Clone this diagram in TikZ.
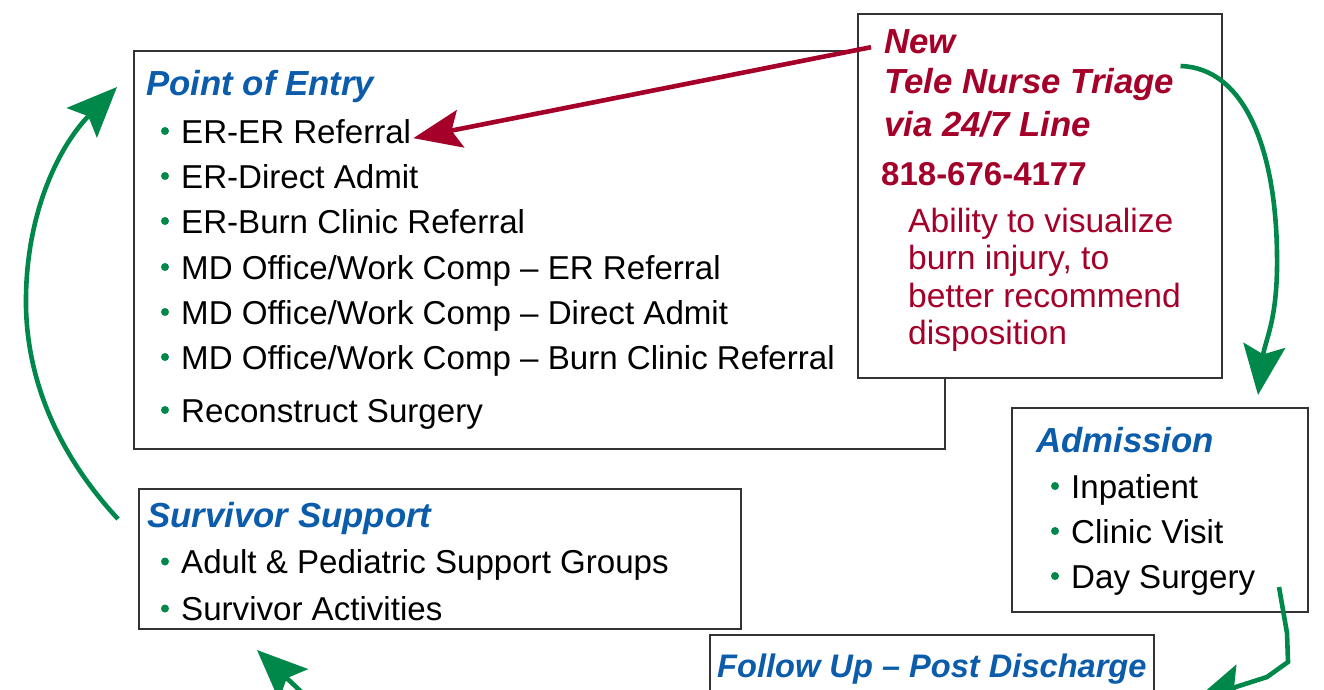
\documentclass[tikz,border=0pt]{standalone}
\usepackage{fontspec}
\setmainfont{Liberation Sans}
\usetikzlibrary{arrows.meta}

\definecolor{hdblue}{HTML}{0B5CAA}
\definecolor{hotred}{HTML}{A5002A}
\definecolor{leaf}{HTML}{00884B}
\definecolor{frame}{HTML}{333333}

\begin{document}
\begin{tikzpicture}[x=1pt,y=-1pt]
        \tikzstyle{panel}=[rectangle,draw=frame,line width=2pt,fill=white,anchor=north west,inner sep=0pt]
        \tikzstyle{head}=[anchor=base west,inner sep=0pt,text=hdblue,font=\fontsize{34.8}{40}\selectfont\bfseries\itshape]
        \tikzstyle{item}=[anchor=base west,inner sep=0pt,font=\fontsize{33.1}{38}\selectfont]
        \tikzstyle{dot}=[circle,fill=leaf,inner sep=0pt,minimum size=8pt]
        \tikzstyle{flow}=[line width=4.6pt,leaf,-{Stealth[length=50pt,width=42pt,inset=9pt]}]
        \tikzstyle{hotline}=[line width=4.6pt,hotred,-{Stealth[length=48pt,width=38pt,inset=9pt]}]
        \useasboundingbox (0,0) rectangle (1324,689);
        % boxes
        \node [panel,minimum width=811pt,minimum height=398pt] (entry) at (133,50) {};
        \node [panel,minimum width=364pt,minimum height=364pt] (tele) at (857,13) {};
        \node [panel,minimum width=296pt,minimum height=204pt] (adm) at (1011,407) {};
        \node [panel,minimum width=602pt,minimum height=140pt] (surv) at (138,488) {};
        \node [panel,minimum width=444pt,minimum height=100pt] (fup) at (709,634) {};
        % point of entry
        \node [head] (entryhead) at (146,95) {Point of Entry};
        \foreach \y/\t [count=\i] in {143/{ER-ER Referral}, 188/{ER-Direct Admit}, 233/{ER-Burn Clinic Referral},
                279/{MD Office/Work Comp \textendash{} ER Referral}, 324/{MD Office/Work Comp \textendash{} Direct Admit},
                369/{MD Office/Work Comp \textendash{} Burn Clinic Referral}, 422/{Reconstruct Surgery}} {
            \node [dot] (ed\i) at (165,\y-12) {};
            \node [item] (e\i) at (181,\y) {\t};
        }
        % tele nurse line
        \node [head,text=hotred] (tnew) at (884,53) {New};
        \node [head,text=hotred] (ttele) at (884,93) {Tele Nurse Triage};
        \node [head,text=hotred] (tline) at (884,136) {via 24/7 Line};
        \node [item,text=hotred,font=\fontsize{33}{38}\selectfont\bfseries] (tphone) at (881,185) {818-676-4177};
        \foreach \y/\t [count=\i] in {232/{Ability to visualize}, 269/{burn injury, to}, 307/{better recommend}, 344/{disposition}} {
            \node [item,text=hotred,font=\fontsize{33.6}{38}\selectfont] (tnote\i) at (908,\y) {\t};
        }
        % admission
        \node [head] (admhead) at (1036,452) {Admission};
        \foreach \y/\t [count=\i] in {498/Inpatient, 543/{Clinic Visit}, 588/{Day Surgery}} {
            \node [dot] (ad\i) at (1055,\y-12) {};
            \node [item] (a\i) at (1071,\y) {\t};
        }
        % survivor support
        \node [head] (survhead) at (147,527) {Survivor Support};
        \foreach \y/\t [count=\i] in {573/{Adult \& Pediatric Support Groups}, 620/{Survivor Activities}} {
            \node [dot] (sd\i) at (165,\y-11.5) {};
            \node [item] (s\i) at (181,\y) {\t};
        }
        % follow up
        \node [head,font=\fontsize{32.6}{40}\selectfont\bfseries\itshape] (fuphead) at (717,677) {Follow Up \textendash{} Post Discharge};
        % connectors
        \coordinate (fupin) at (1195,700);
        \coordinate (fupout) at (330,719);
        \draw [hotline] ([xshift=-13pt,yshift=-6pt]tnew.west) -- ([xshift=2pt,yshift=-7pt]e1.east);
        \draw [flow] ([xshift=6pt,yshift=18pt]ttele.east) .. controls (1245,68) and (1276,150) .. (1277,255)
            .. controls (1278,320) and (1265,340) .. ([xshift=-51pt,yshift=12pt]adm.north east);
        \draw [flow] ([xshift=-30pt,yshift=26pt]adm.south east) -- (1287,633) -- (1288,662) -- (1267,677) -- (fupin);
        \draw [flow] (fupout) -- ([xshift=119pt,yshift=-20pt]surv.south west);
        \draw [flow] ([xshift=-20pt,yshift=-31pt]surv.north west) .. controls (45,440) and (25,360) .. (26,297)
            .. controls (27,210) and (60,145) .. ([xshift=-16pt,yshift=-37pt]entry.north west);
    \end{tikzpicture}
\end{document}
